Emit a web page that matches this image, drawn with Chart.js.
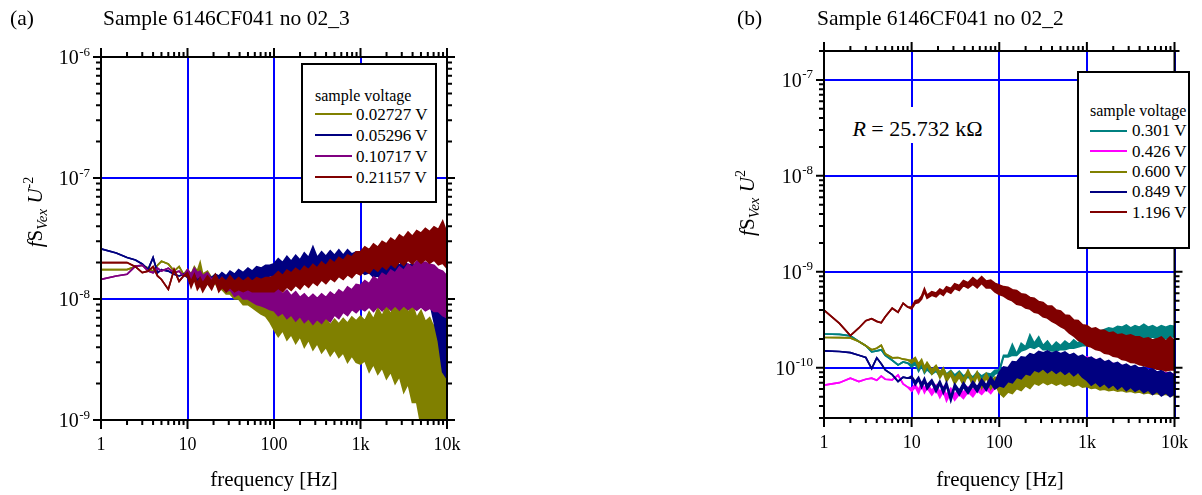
<!DOCTYPE html>
<html><head><meta charset="utf-8">
<script src="https://cdn.jsdelivr.net/npm/chart.js@4.4.1/dist/chart.umd.min.js"></script>
<style>
body{margin:0;width:1202px;height:495px;background:#fff;position:relative;overflow:hidden;font-family:"Liberation Serif","Times New Roman",serif;color:#000}
canvas{position:absolute;top:0}
.t{position:absolute;white-space:nowrap}
.box{position:absolute;background:#fff;border:2px solid #000;box-sizing:border-box}
.yt{position:absolute;width:180px;height:26px;line-height:26px;text-align:center;font-size:21px;transform:rotate(-90deg);white-space:nowrap}
.yt sub{font-size:15px;vertical-align:-5px}
.yt sup{font-size:14px;vertical-align:9px}
</style></head>
<body>
<canvas id="ca" width="600" height="495" style="left:0"></canvas>
<canvas id="cb" width="602" height="495" style="left:600px"></canvas>

<div class="t" style="left:10px;top:7px;font-size:21.5px;line-height:22px">(a)</div>
<div class="t" style="left:103px;top:7px;font-size:21.5px;line-height:22px">Sample 6146CF041 no 02_3</div>
<div class="t" style="left:737px;top:7px;font-size:21.5px;line-height:22px">(b)</div>
<div class="t" style="left:817px;top:7px;font-size:21.5px;line-height:22px">Sample 6146CF041 no 02_2</div>

<div class="t" style="left:174px;width:200px;text-align:center;top:469px;font-size:21px;line-height:21px">frequency [Hz]</div>
<div class="t" style="left:900px;width:200px;text-align:center;top:469px;font-size:21px;line-height:21px">frequency [Hz]</div>

<div class="yt" style="left:-61px;top:199px"><i>f</i>S<sub><i>Vex</i></sub>&nbsp;<i>U</i><sup>-2</sup></div>
<div class="yt" style="left:651px;top:190px"><i>f</i>S<sub><i>Vex</i></sub>&nbsp;<i>U</i><sup>2</sup></div>

<div class="t" style="left:846px;top:107px;width:143px;height:36px;box-sizing:border-box;padding-top:8px;line-height:28px;background:#fff;text-align:center;font-size:22px"><i>R</i> = 25.732 kΩ</div>

<div id="legA"></div>
<div id="legB"></div>

<script>
// ---------- data ----------
const FREQ = [
  1, 1.5, 2, 2.5, 3, 3.5, 4, 4.5, 5, 6, 7, 8, 9,
  10, 11, 12, 13, 14, 15, 17, 19, 21, 23, 25, 28, 31, 35, 39, 44, 50, 56, 63, 71, 80, 89,
  100, 112, 126, 141, 158, 178, 200, 224, 251, 282, 316, 355, 398, 447, 501, 562, 631, 708, 794, 891,
  1000, 1122, 1259, 1413, 1585, 1778, 1995, 2239, 2512, 2818, 3162, 3548, 3981, 4467, 5012, 5623, 6310, 7079, 7943, 8913, 10000
];

// chart (a): upper / lower edge of each noisy trace, units of 1e-9
const A_UNIT = 1e-9;
const A_LABELS = ['0.02727 V', '0.05296 V', '0.10717 V', '0.21157 V'];
const A_COLORS = ['#808000', '#000080', '#800080', '#800000'];
const A_V02727_HI = [
  17.5, 17.5, 17.5, 18.5, 19, 18, 17, 19, 20.5, 19.5, 17, 18.5, 16,
  17.5, 16, 18.5, 17, 20, 16, 17, 15, 16, 14, 15, 13, 13.5, 12, 12.5, 11.5, 11.5, 10.5, 10.5, 10, 10, 9.5,
  8.8, 7.8, 8.6, 7.2, 8.0, 6.9, 7.6, 6.6, 7.4, 6.4, 7.0, 6.3, 6.9, 6.1, 6.8, 6.2, 6.9, 6.3, 7.1, 6.6,
  7.2, 6.6, 7.8, 6.8, 8.4, 7.2, 8.8, 7.4, 10, 7.8, 10.5, 7.6, 9, 7, 8, 6.5, 7, 5.8, 9, 13, 9
];
const A_V02727_LO = [
  17.5, 17.5, 17.5, 18.5, 19, 18, 17, 19, 20.5, 19.5, 17, 18.5, 16,
  17, 15, 17.5, 15.5, 18, 14, 15, 13, 13.5, 12, 12, 11, 11, 10, 10, 9, 9, 8.5, 8, 7.5, 7.2, 6.5,
  5.6, 4.9, 5.5, 4.6, 5.1, 4.3, 4.9, 4.0, 4.6, 3.8, 4.3, 3.6, 4.0, 3.4, 3.8, 3.3, 3.6, 3.0, 3.4, 3.0,
  2.9, 3.1, 2.5, 2.9, 2.4, 2.7, 2.2, 2.5, 2.0, 2.3, 1.7, 2.0, 1.4, 1.4, 0.9, 0.8, 0.7, 0.8, 0.6, 0.8, 0.9
];
const A_V05296_HI = [
  26, 24, 22, 21, 19.5, 17.5, 22, 16.5, 17.5, 17, 16, 15.5, 16,
  16.5, 15.5, 17, 15.5, 16, 15, 16, 15, 16, 15.5, 16.5, 15.5, 17, 16, 17.5, 16.5, 18, 17, 18.5, 18, 19, 19,
  19.5, 21.5, 20, 22.5, 20.5, 23, 21, 24, 22, 27, 22, 24.5, 22.5, 25, 23, 25.5, 23, 25.5, 23.5, 24.5,
  23, 21, 22, 20.5, 21, 20, 20.5, 19.5, 20.5, 19, 21, 19, 19.5, 19, 19, 17, 17, 15, 13, 9.5, 7
];
const A_V05296_LO = [
  26, 24, 22, 21, 19.5, 17.5, 22, 16.5, 17.5, 17, 16, 15.5, 16,
  15, 14, 15.5, 13.5, 14.5, 13, 14, 13, 14, 13, 14, 13, 14, 13, 14, 13.5, 14.5, 14, 15, 14.5, 15, 15.5,
  15.5, 16.8, 15.6, 17.4, 16.2, 17.8, 16.6, 18.2, 16.8, 18.6, 17.2, 19, 17.5, 19.2, 17.8, 19.3, 18, 19.5, 18.2, 18.5,
  17, 16, 16.5, 15.2, 15.5, 14.5, 15, 14, 14.5, 13.5, 14, 12.5, 13.5, 12, 12.5, 10, 9.5, 6.5, 4.5, 2.5, 2.2
];
const A_V10717_HI = [
  14.5, 15.5, 16, 18.7, 19, 17, 16.5, 18, 17, 18, 16.5, 17, 15.5,
  17.5, 16, 18, 16.5, 17, 15.5, 16.5, 14.5, 15.5, 14, 15, 13.5, 14.5, 13, 13.5, 12.5, 13, 12, 12.5, 12, 12, 11.8,
  11.5, 12.2, 11, 11.8, 10.6, 11.5, 10.3, 11, 10.1, 10.9, 10.1, 11, 10.3, 11.4, 10.7, 11.9, 11.2, 12.6, 11.9, 13.2,
  13, 14.2, 13.4, 15.2, 14.4, 16.3, 15.4, 17.3, 16.4, 18.4, 17.2, 19.5, 18.2, 20.5, 19.8, 20.2, 19.3, 19, 17.5, 17, 15.5
];
const A_V10717_LO = [
  14.5, 15.5, 16, 18.7, 19, 17, 16.5, 18, 17, 18, 16.5, 17, 15.5,
  16.5, 14.5, 17, 15, 15.5, 14, 15, 13, 14, 12.5, 13, 11.5, 12, 10.5, 11, 10, 10, 9.5, 9, 8.8, 8.5, 8.2,
  8, 7.3, 7.7, 6.9, 7.4, 6.6, 7.2, 6.4, 6.9, 6.2, 6.8, 6.3, 7, 6.5, 7.4, 6.9, 7.8, 7.3, 8.2, 7.7,
  8.4, 8, 8.6, 7.9, 8.7, 8, 8.8, 8.1, 8.8, 8.1, 8.8, 8.2, 8.7, 8.1, 8.6, 8, 8.4, 7.9, 7.9, 7.3, 7
];
const A_V21157_HI = [
  20, 20, 20, 18.5, 16.5, 17, 18.5, 15.5, 14.5, 12, 17.5, 14, 15.5,
  16.5, 14, 16, 13.5, 15, 13.5, 15.5, 14, 16, 14, 15, 14, 15.5, 14, 15, 14, 15, 14, 15, 14.5, 15, 15,
  15.5, 16.8, 15.6, 17.3, 16.4, 17.9, 16.8, 18.6, 17.4, 19.3, 18, 20.2, 18.8, 21.1, 19.8, 22.1, 20.8, 23.1, 22.2, 24.5,
  24.5, 27, 25.5, 28.5, 26.8, 30, 28.5, 31.8, 30, 33.8, 32, 35.8, 33, 36.8, 35, 38.3, 36, 39.5, 37.5, 44, 35
];
const A_V21157_LO = [
  20, 20, 20, 18.5, 16.5, 17, 18.5, 15.5, 14.5, 12, 17.5, 14, 15.5,
  15.5, 12.5, 14.5, 12, 13, 11.5, 13.5, 12, 14, 11.5, 12.5, 11.5, 12.5, 11.5, 12, 11.5, 12, 11.5, 11.5, 11.5, 11.5, 11.5,
  11.5, 12.3, 11.5, 12.6, 11.8, 13, 12.1, 13.4, 12.5, 13.8, 13, 14.4, 13.4, 14.8, 14, 15.4, 14.5, 15.9, 15, 16.5,
  15.8, 17.3, 16.4, 18.2, 17, 18.8, 17.6, 19.5, 18.2, 20.4, 19, 21, 19.5, 21.4, 19.8, 21.3, 19.8, 21, 19.2, 19.8, 18
];

// chart (b): upper / lower edge of each noisy trace, units of 1e-11
const B_UNIT = 1e-11;
const B_LABELS = ['0.301 V', '0.426 V', '0.600 V', '0.849 V', '1.196 V'];
const B_COLORS = ['#008080', '#ff00ff', '#808000', '#000080', '#800000'];
const B_V0301_HI = [
  22.5, 22.3, 21.5, 18.8, 17, 14.7, 15, 15.4, 13.5, 12, 10.7, 11.5, 11.2,
  10.8, 11.8, 10, 11, 9.6, 10.3, 9.4, 10, 9, 9.8, 8.6, 9.4, 8.4, 9.2, 8.2, 8.8, 8, 9, 8.2, 8.8, 8.6, 9.4,
  9.5, 13.5, 13.5, 17.5, 14, 18, 16.5, 22, 18, 21, 17, 19, 16.5, 18.5, 17, 19, 17.5, 19.5, 18, 20.5,
  21, 21.5, 22.5, 24, 25, 26, 25.5, 27, 26.5, 28, 26, 27.5, 26.5, 28.5, 26.5, 27.5, 26, 27.5, 26.5, 27.5, 27
];
const B_V0301_LO = [
  22.5, 22.3, 21.5, 18.8, 17, 14.7, 15, 15.4, 13.5, 12, 10.7, 11.5, 11.2,
  10.2, 11, 9.2, 10.4, 8.8, 9.6, 8.6, 9.2, 8.2, 9, 7.8, 8.6, 7.6, 8.4, 7.4, 8, 7.3, 8.2, 7.4, 8, 7.6, 8.6,
  9, 13, 13, 13.5, 13.5, 15, 15.5, 16.5, 16, 17, 15.5, 15.5, 15, 15, 15.5, 15.5, 16, 16, 16.5, 17,
  17, 18, 17.5, 19.5, 19, 20.5, 19.5, 21, 20, 21, 20.5, 20.5, 20, 20.5, 20, 21, 20, 20.5, 20, 21, 21
];
const B_V0426_HI = [
  6.6, 7, 7.8, 7.2, 7.6, 7.8, 7.4, 8.2, 7.6, 7.5, 8.4, 6.8, 6.3,
  6.1, 6.7, 5.9, 7, 6.1, 6.8, 5.8, 6.6, 5.6, 6.3, 5.2, 6.1, 5.3, 6, 5.6, 6.3, 5.9, 6.5, 6.1, 6.6, 6.3, 6.8,
  7.5, 8.2, 8.5, 9.3, 9.5, 10.3, 10.5, 11.3, 11.5, 12.2, 12, 12.7, 12.4, 12.8, 12.1, 12.6, 12, 12.3, 12.5, 12.2,
  13, 12.5, 12.2, 11.5, 11.6, 11, 11.1, 10.5, 10.6, 10, 10.1, 9.8, 9.7, 9.5, 9.4, 9.2, 9.1, 9, 8.9, 8.7, 8.6
];
const B_V0426_LO = [
  6.6, 7, 7.8, 7.2, 7.6, 7.8, 7.4, 8.2, 7.6, 7.5, 8.4, 6.8, 6.3,
  5.7, 6.3, 5.4, 6.5, 5.5, 6.2, 5.2, 6, 4.9, 5.7, 4.5, 5.5, 4.6, 5.3, 4.8, 5.6, 5, 5.8, 5.3, 6, 5.4, 6.2,
  6, 6.5, 7, 7.5, 7.8, 8, 8.5, 9, 9.5, 10, 10, 10, 10, 10, 10, 10, 9.8, 9.6, 9.5, 9.5,
  9.5, 9.3, 9, 9, 8.8, 8.6, 8.5, 8.3, 8.2, 8, 7.8, 7.7, 7.5, 7.4, 7.2, 7, 7, 6.8, 6.7, 6.5, 6.5
];
const B_V0600_HI = [
  20.7, 20.6, 20.5, 18.8, 17, 15.4, 16, 17.2, 14, 12.7, 12.8, 12.3, 12.1,
  12, 12.8, 11, 12.2, 10.2, 11.4, 9.6, 10.6, 9, 10, 8.4, 9.2, 7.8, 8.9, 7.6, 9.5, 7.4, 9.1, 7.2, 8.7, 7, 8,
  7.8, 7.2, 8, 8.2, 9, 8.6, 9.6, 9, 10.4, 11.5, 9.8, 8.8, 9.3, 8.6, 9, 8.4, 8.8, 8.2, 8.6, 8,
  8.2, 7.6, 7.8, 7.3, 7.6, 7.1, 7.4, 6.9, 7.2, 6.8, 7, 6.6, 6.8, 6.4, 6.6, 6.3, 6.5, 6.2, 6.4, 6.1, 6.3
];
const B_V0600_LO = [
  20.7, 20.6, 20.5, 18.8, 17, 15.4, 16, 17.2, 14, 12.7, 12.8, 12.3, 12.1,
  11.2, 12.2, 10, 11.4, 9.2, 10.6, 8.6, 9.8, 7.8, 9, 7.2, 8.4, 6.8, 8, 6.6, 8.8, 6.4, 8.3, 6.1, 8, 6, 7,
  5.5, 5.0, 5.6, 5.4, 6.1, 5.8, 6.5, 6.1, 6.9, 6.6, 7.1, 6.7, 7.0, 6.6, 6.9, 6.5, 6.8, 6.4, 6.7, 6.3,
  6.4, 6.1, 6.2, 5.9, 6.0, 5.8, 5.9, 5.7, 5.8, 5.6, 5.7, 5.5, 5.6, 5.4, 5.5, 5.3, 5.4, 5.2, 5.3, 5.1, 5.2
];
const B_V0849_HI = [
  15, 14.8, 14.4, 13.5, 12.8, 9.8, 12.7, 11, 9.5, 8.5, 7.2, 8, 7.8,
  8.2, 7.2, 8, 6.8, 7.8, 6.6, 7.5, 6.2, 7.3, 6, 7.1, 5, 6.8, 5.8, 7, 6, 7.2, 6.3, 7.6, 6.6, 8, 7,
  9, 10.2, 10, 11.6, 11.5, 13, 12.8, 14, 13.6, 14.8, 14.3, 15, 14.2, 14.8, 14, 14.6, 13.5, 14.1, 13, 13.5,
  12.5, 12.9, 12, 12.5, 11.5, 11.9, 11, 11.4, 10.5, 10.9, 10.2, 10.6, 9.8, 10.2, 9.4, 9.8, 9, 9.4, 8.7, 9, 8.3
];
const B_V0849_LO = [
  15, 14.8, 14.4, 13.5, 12.8, 9.8, 12.7, 11, 9.5, 8.5, 7.2, 8, 7.8,
  7.8, 6.6, 7.5, 6.2, 7.2, 6, 7, 5.6, 6.8, 5.4, 6.5, 4.5, 6.2, 5.2, 6.3, 5.4, 6.5, 5.6, 6.8, 5.8, 7, 6,
  6.5, 6.3, 7.2, 7, 8, 7.7, 8.7, 8.4, 9.5, 9.1, 9.8, 8.9, 9.6, 8.8, 9.4, 8.6, 9.2, 8.3, 9, 8,
  7.4, 6.6, 7.1, 6.4, 6.9, 6.2, 6.7, 6, 6.5, 5.8, 6.3, 5.7, 6.1, 5.5, 5.9, 5.3, 5.7, 5.1, 5.5, 5, 5.4
];
const B_V1196_HI = [
  40, 29, 21.7, 26, 31, 32.5, 30.5, 29.5, 34, 41.8, 38, 47, 43,
  43, 50, 51, 56, 67, 57, 62, 60, 66, 63, 70, 67, 75, 72, 81, 77, 87, 80, 89, 80, 82, 76,
  73, 70, 69, 65, 64, 59, 58, 54, 53, 49, 48, 44, 44, 40, 39, 35.5, 35, 31.5, 31, 28,
  27.5, 25.5, 26, 24.5, 24.5, 23, 23.5, 22, 22.5, 21.5, 22, 21, 21, 20, 20.5, 19.5, 20, 21, 19, 21, 19
];
const B_V1196_LO = [
  40, 29, 21.7, 26, 31, 32.5, 30.5, 29.5, 34, 41.8, 38, 47, 43,
  41, 47, 48, 52, 62, 53, 57, 55, 60, 57, 63, 60, 67, 64, 72, 68, 74, 68, 76, 68, 68, 62,
  58, 56, 52, 50, 46, 45, 42, 41, 38, 37, 34, 33, 30.5, 29, 27, 25.5, 23, 21.5, 19.5, 18.5,
  17, 16.5, 15.5, 15.2, 14.2, 14, 13.2, 13, 12.2, 12, 11.4, 11.3, 10.8, 10.6, 10.2, 10.1, 9.7, 9.7, 9.3, 9.5, 9.5
];

// ticks
const X_TICKS = [1, 10, 100, 1000, 10000];
const X_TICK_LABELS = ['1', '10', '100', '1k', '10k'];
const A_Y_TICKS = [1e-9, 1e-8, 1e-7, 1e-6];
const A_Y_TICK_LABELS = [['10', '-9'], ['10', '-8'], ['10', '-7'], ['10', '-6']];
const B_Y_TICKS = [1e-10, 1e-9, 1e-8, 1e-7];
const B_Y_TICK_LABELS = [['10', '-10'], ['10', '-9'], ['10', '-8'], ['10', '-7']];

// ---------- drawing ----------
const FONT = '"Liberation Serif", "Times New Roman", serif';
Chart.defaults.font.family = FONT;
Chart.defaults.color = '#000';

function logMarks(min, max) {
  const out = [];
  for (let e = Math.floor(Math.log10(min)) - 1; e <= Math.ceil(Math.log10(max)); e++) {
    for (let k = 1; k <= 9; k++) {
      const v = k * Math.pow(10, e);
      if (v >= min * 0.9999 && v <= max * 1.0001) out.push({v, major: k === 1});
    }
  }
  return out;
}
const frameTicks = {
  id: 'frameTicks',
  afterDraw(chart, args, opts) {
    const {ctx, chartArea: a, scales: {x, y}} = chart;
    ctx.save();
    ctx.strokeStyle = '#000';
    ctx.lineWidth = 2;
    ctx.strokeRect(a.left, a.top, a.right - a.left, a.bottom - a.top);
    ctx.beginPath();
    logMarks(x.min, x.max).forEach(t => {
      const p = x.getPixelForValue(t.v), L = t.major ? 9 : 5;
      ctx.moveTo(p, a.top); ctx.lineTo(p, a.top - L);
      ctx.moveTo(p, a.bottom); ctx.lineTo(p, a.bottom + L);
    });
    logMarks(y.min, y.max).forEach(t => {
      const p = y.getPixelForValue(t.v), L = t.major ? 8 : 5;
      ctx.moveTo(a.left, p); ctx.lineTo(a.left - L, p);
      ctx.moveTo(a.right, p); ctx.lineTo(a.right + L, p);
    });
    ctx.stroke();
    // y tick labels: base and exponent
    const xr = a.left - 11;
    ctx.fillStyle = '#000';
    opts.ticks.forEach((v, i) => {
      const [base, exp] = opts.labels[i];
      const py = y.getPixelForValue(v);
      ctx.font = '13px ' + FONT;
      const ew = ctx.measureText(exp).width;
      ctx.textAlign = 'left';
      ctx.textBaseline = 'alphabetic';
      ctx.fillText(exp, xr - ew, py - 1.5);
      ctx.font = '20px ' + FONT;
      ctx.textAlign = 'right';
      ctx.fillText(base, xr - ew - 0.5, py + 7);
    });
    ctx.restore();
  }
};
function labelFor(ticks, labels, v) {
  const i = ticks.findIndex(t => Math.abs(t - v) <= t * 1e-6);
  return i >= 0 ? labels[i] : '';
}
function makeChart(id, series, labels, colors, unit, yMin, yMax, yTicks, yLabels, lay) {
  const n = series.length;
  const datasets = [];
  series.forEach(([hi, lo], i) => {
    datasets.push({
      label: labels[i],
      data: hi.map((v, j) => ({x: FREQ[j], y: v * unit})),
      borderColor: colors[i], backgroundColor: colors[i],
      borderWidth: 1.7, pointRadius: 0, tension: 0,
      fill: '+1',
      order: (n - 1 - i) * 2
    });
    datasets.push({
      label: labels[i] + ' (lower)',
      data: lo.map((v, j) => ({x: FREQ[j], y: v * unit})),
      borderColor: colors[i], backgroundColor: colors[i],
      borderWidth: 1.7, pointRadius: 0, tension: 0,
      fill: false,
      order: (n - 1 - i) * 2 + 1
    });
  });
  return new Chart(document.getElementById(id), {
    type: 'line',
    data: {datasets},
    options: {
      responsive: false, animation: false, devicePixelRatio: 1,
      layout: {padding: lay.padding},
      plugins: {
        legend: {display: false}, tooltip: {enabled: false}, title: {display: false},
        filler: {propagate: false},
        frameTicks: {ticks: yTicks, labels: yLabels}
      },
      scales: {
        x: {
          type: 'logarithmic', position: 'bottom', min: 1, max: 10000,
          afterBuildTicks(s) { s.ticks = X_TICKS.map(v => ({value: v})); },
          afterFit(s) { s.height = lay.xh; },
          ticks: {autoSkip: false, maxRotation: 0, minRotation: 0, padding: 14, color: '#000', font: {size: 18},
                  callback: v => labelFor(X_TICKS, X_TICK_LABELS, v)},
          grid: {color: '#0000ff', lineWidth: 2, drawTicks: false},
          border: {display: false}
        },
        y: {
          type: 'logarithmic', position: 'left', min: yMin, max: yMax,
          afterBuildTicks(s) { s.ticks = yTicks.map(v => ({value: v})); },
          afterFit(s) { s.width = lay.yw; },
          ticks: {display: false},
          grid: {color: '#0000ff', lineWidth: 2, drawTicks: false},
          border: {display: false}
        }
      }
    },
    plugins: [frameTicks]
  });
}

makeChart('ca',
  [[A_V02727_HI, A_V02727_LO], [A_V05296_HI, A_V05296_LO], [A_V10717_HI, A_V10717_LO], [A_V21157_HI, A_V21157_LO]],
  A_LABELS, A_COLORS, A_UNIT, 1e-9, 1e-6, A_Y_TICKS, A_Y_TICK_LABELS,
  {padding: {left: 0, top: 57, right: 153, bottom: 0}, yw: 101, xh: 75});
makeChart('cb',
  [[B_V0301_HI, B_V0301_LO], [B_V0426_HI, B_V0426_LO], [B_V0600_HI, B_V0600_LO], [B_V0849_HI, B_V0849_LO], [B_V1196_HI, B_V1196_LO]],
  B_LABELS, B_COLORS, B_UNIT, 3e-11, 2e-7, B_Y_TICKS, B_Y_TICK_LABELS,
  {padding: {left: 0, top: 51, right: 27, bottom: 0}, yw: 224, xh: 77});

// ---------- legends ----------
function buildLegend(el, box, labels, colors, titleY, rowY0, rowDy, lineX, textX) {
  const wrap = document.getElementById(el);
  let html = `<div class="box" style="left:${box.l}px;top:${box.t}px;width:${box.w}px;height:${box.h}px"></div>`;
  html += `<div class="t" style="left:${lineX}px;top:${titleY - 8}px;font-size:16px;line-height:16px">sample voltage</div>`;
  labels.forEach((lab, i) => {
    const yc = rowY0 + i * rowDy;
    html += `<div style="position:absolute;left:${lineX}px;top:${yc - 1}px;width:37px;height:2px;background:${colors[i]}"></div>`;
    html += `<div class="t" style="left:${textX}px;top:${yc - 8.5}px;font-size:17px;line-height:17px">${lab}</div>`;
  });
  wrap.innerHTML = html;
}
buildLegend('legA', {l: 301, t: 63, w: 136, h: 140}, A_LABELS, A_COLORS, 96, 114, 21, 315, 356);
buildLegend('legB', {l: 1077, t: 71, w: 113, h: 178}, B_LABELS, B_COLORS, 110.5, 130.7, 20.4, 1090, 1132);
</script>
</body></html>
